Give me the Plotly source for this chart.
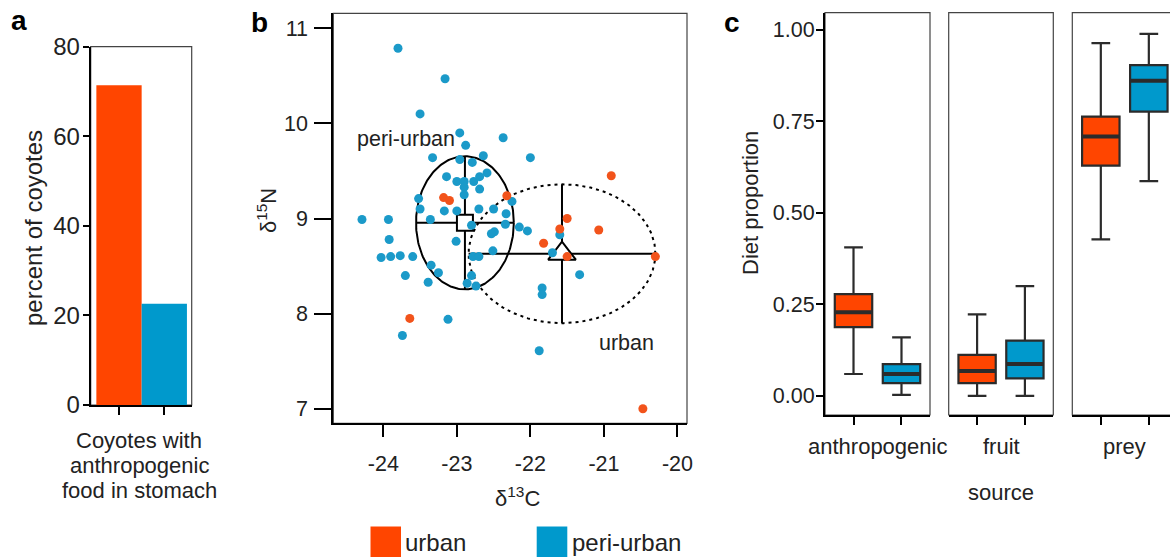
import numpy as np
import plotly.graph_objects as go

# ---------------- data ----------------
# panel a
bar_groups = ["urban", "peri-urban"]
bar_percent = [71.4, 22.6]

# panel b : stable isotopes
peri_x = [-23.80, -23.50, -23.16, -22.96, -22.88, -22.37, -23.33, -22.96, -22.64, -22.79,
          -22.00, -23.14, -23.00, -22.90, -22.77, -22.69, -22.59, -22.90, -22.90, -22.69,
          -23.52, -22.25, -23.50, -23.17, -23.00, -22.70, -22.50, -22.33, -24.29, -23.93,
          -23.36, -22.80, -22.34, -22.15, -22.04, -21.60, -22.49, -22.53, -23.01, -23.92,
          -22.51, -22.78, -22.70, -21.70, -24.03, -23.90, -23.77, -23.60, -23.35, -23.25,
          -23.70, -23.39, -22.80, -22.86, -22.74, -21.33, -21.84, -21.84, -23.12, -23.74,
          -21.88]
peri_y = [10.79, 10.10, 10.47, 9.90, 9.77, 9.85, 9.64, 9.62, 9.66, 9.59,
          9.64, 9.44, 9.39, 9.39, 9.39, 9.44, 9.48, 9.33, 9.25, 9.31,
          9.21, 9.18, 9.10, 9.08, 9.08, 9.10, 9.10, 9.05, 8.99, 8.99,
          8.99, 8.93, 8.94, 8.91, 8.87, 8.83, 8.86, 8.84, 8.76, 8.78,
          8.66, 8.60, 8.60, 8.64, 8.59, 8.60, 8.61, 8.60, 8.51, 8.43,
          8.40, 8.33, 8.40, 8.32, 8.29, 8.41, 8.27, 8.20, 7.94, 7.77,
          7.61]
urban_x = [-23.18, -23.10, -22.32, -20.90, -21.50, -21.60, -21.07, -21.82, -21.50, -20.30, -23.64, -20.47]
urban_y = [9.22, 9.19, 9.24, 9.45, 9.00, 8.89, 8.88, 8.74, 8.60, 8.60, 7.95, 7.00]

# group means and SDs (centre and half-axes of ellipses / crosshairs)
peri_mean = [-22.89, 8.955]
peri_sd = [0.665, 0.70]
urban_mean = [-21.57, 8.63]
urban_sd = [1.27, 0.73]

b_xticks = [-24, -23, -22, -21, -20]
b_xticklabels = ["-24", "-23", "-22", "-21", "-20"]
b_yticks = [7, 8, 9, 10, 11]

# panel c : diet proportions (box stats)
sources = ["anthropogenic", "fruit", "prey"]
urban_q = {  # lower whisker, q1, median, q3, upper whisker
    "anthropogenic": [0.060, 0.188, 0.229, 0.278, 0.406],
    "fruit": [0.000, 0.035, 0.068, 0.112, 0.223],
    "prey": [0.428, 0.629, 0.709, 0.763, 0.964],
}
peri_q = {
    "anthropogenic": [0.003, 0.035, 0.060, 0.087, 0.160],
    "fruit": [0.000, 0.048, 0.087, 0.151, 0.300],
    "prey": [0.587, 0.777, 0.861, 0.904, 0.989],
}
c_yticks = [0.0, 0.25, 0.5, 0.75, 1.0]
c_yticklabels = ["0.00", "0.25", "0.50", "0.75", "1.00"]

# ---------------- style ----------------
ORANGE = "#FF4500"
BLUE = "#0099CC"
PT_ORANGE = "#F2531B"
PT_BLUE = "#1B9AC9"
FONT = "Liberation Sans, Arial, sans-serif"
W, H = 1170, 558


def px(v):
    return v / W


def py(v):
    return 1 - v / H


fig = go.Figure()

# ---------- panel a ----------
fig.add_trace(go.Bar(x=[0, 1], y=bar_percent, width=1.0,
                     marker=dict(color=[ORANGE, BLUE], line=dict(width=0)),
                     xaxis="x", yaxis="y", showlegend=False))

# ---------- panel b ----------
theta = np.linspace(0, 2 * np.pi, 240)
for mean, sd, dash in [(peri_mean, peri_sd, "solid"), (urban_mean, urban_sd, "3px,4px")]:
    fig.add_trace(go.Scatter(x=mean[0] + sd[0] * np.cos(theta), y=mean[1] + sd[1] * np.sin(theta),
                             mode="lines", line=dict(color="black", width=2, dash=dash),
                             xaxis="x2", yaxis="y2", showlegend=False, hoverinfo="skip"))
    fig.add_trace(go.Scatter(x=[mean[0] - sd[0], mean[0] + sd[0], None, mean[0], mean[0]],
                             y=[mean[1], mean[1], None, mean[1] - sd[1], mean[1] + sd[1]],
                             mode="lines", line=dict(color="black", width=2),
                             xaxis="x2", yaxis="y2", showlegend=False, hoverinfo="skip"))
fig.add_trace(go.Scatter(x=[peri_mean[0]], y=[peri_mean[1]], mode="markers",
                         marker=dict(symbol="square", size=16, color="white",
                                     line=dict(color="black", width=2)),
                         xaxis="x2", yaxis="y2", showlegend=False))
fig.add_trace(go.Scatter(x=[urban_mean[0]], y=[urban_mean[1]], mode="markers",
                         marker=dict(symbol="triangle-up", size=24, color="white",
                                     line=dict(color="black", width=2)),
                         xaxis="x2", yaxis="y2", showlegend=False))
fig.add_trace(go.Scatter(x=peri_x, y=peri_y, mode="markers",
                         marker=dict(color=PT_BLUE, size=9, line=dict(width=0)),
                         xaxis="x2", yaxis="y2", showlegend=False))
fig.add_trace(go.Scatter(x=urban_x, y=urban_y, mode="markers",
                         marker=dict(color=PT_ORANGE, size=9, line=dict(width=0)),
                         xaxis="x2", yaxis="y2", showlegend=False))

# ---------- panel c ----------
BOXW = 0.78
for i, src in enumerate(sources):
    xa = "x%d" % (i + 3)
    ya = "y%d" % (i + 3)
    for pos, q, col in [(1, urban_q[src], ORANGE), (2, peri_q[src], BLUE)]:
        fig.add_trace(go.Box(x=[pos], lowerfence=[q[0]], q1=[q[1]], median=[q[2]], q3=[q[3]],
                             upperfence=[q[4]], width=BOXW, fillcolor=col,
                             line=dict(color="#2b2b2b", width=2.2), boxpoints=False,
                             xaxis=xa, yaxis=ya, showlegend=False))
        fig.add_trace(go.Scatter(x=[pos - BOXW / 2, pos + BOXW / 2], y=[q[2], q[2]], mode="lines",
                                 line=dict(color="#2b2b2b", width=4),
                                 xaxis=xa, yaxis=ya, showlegend=False, hoverinfo="skip"))

# ---------- layout ----------
tickfont = dict(family=FONT, size=21.5, color="#222")
axline = dict(showline=True, linecolor="black", linewidth=2, showgrid=False, zeroline=False,
              ticks="outside", tickcolor="black", tickwidth=1.6, automargin=False)

# domains
a_dom_x = [px(90.7), px(191.7)]
a_dom_y = [py(405), py(46.7)]
b_dom_x = [px(333.3), px(687)]
b_dom_y = [py(423.3), py(13.3)]
c_doms_x = [[px(825), px(930)], [px(948.7), px(1053.3)], [px(1072.3), 1.0]]
c_dom_y = [py(415), py(12.7)]

layout = dict(
    width=W, height=H, margin=dict(l=0, r=0, t=0, b=0, pad=0, autoexpand=False),
    paper_bgcolor="white", plot_bgcolor="white", showlegend=False,
    font=dict(family=FONT, color="#222"),
    boxmode="overlay",
    xaxis=dict(domain=a_dom_x, range=[-0.625, 1.605], tickvals=[0, 1], showticklabels=False,
               ticklen=8, anchor="y", **axline),
    yaxis=dict(domain=a_dom_y, range=[0, 80], tickvals=[0, 20, 40, 60, 80], ticklen=6,
               tickfont=dict(family=FONT, size=24, color="#222"), ticklabelstandoff=-2,
               anchor="x", **axline),
    xaxis2=dict(domain=b_dom_x, range=[-24.68, -19.87], tickvals=b_xticks, ticktext=b_xticklabels,
                ticklen=12, tickfont=tickfont, ticklabelstandoff=8, anchor="y2", **axline),
    yaxis2=dict(domain=b_dom_y, range=[6.847, 11.158], tickvals=b_yticks, ticklen=17,
                tickfont=tickfont, ticklabelstandoff=2, anchor="x2", **axline),
)
c_xranges = [[0.406, 2.594], [0.406, 2.594], [0.406, 2.441]]
for i in range(3):
    n = i + 3
    layout["xaxis%d" % n] = dict(domain=c_doms_x[i], range=c_xranges[i], tickvals=[1, 2],
                                 showticklabels=False, ticklen=8, anchor="y%d" % n, **axline)
    yax = dict(domain=c_dom_y, range=[-0.052, 1.047], anchor="x%d" % n, showgrid=False,
               zeroline=False, automargin=False)
    if i == 0:
        yax.update(axline)
        yax.update(tickvals=c_yticks, ticktext=c_yticklabels, ticklen=7, tickfont=tickfont,
                   ticklabelstandoff=-3)
    else:
        yax.update(showline=False, showticklabels=False, ticks="")
    layout["yaxis%d" % n] = yax

fig.update_layout(**layout)

# panel borders (thin)
shapes = []
border = dict(type="rect", xref="paper", yref="paper", layer="below",
              line=dict(color="#444", width=1.2), fillcolor="rgba(0,0,0,0)")
shapes.append(dict(border, x0=a_dom_x[0], x1=a_dom_x[1], y0=a_dom_y[0], y1=a_dom_y[1]))
shapes.append(dict(border, x0=b_dom_x[0], x1=b_dom_x[1], y0=b_dom_y[0], y1=b_dom_y[1]))
for i, d in enumerate(c_doms_x):
    x1 = d[1] if i < 2 else px(1177.3)
    shapes.append(dict(border, x0=d[0], x1=x1, y0=c_dom_y[0], y1=c_dom_y[1]))

# legend squares
shapes.append(dict(type="rect", xref="paper", yref="paper", x0=px(370.5), x1=px(401),
                   y0=py(557), y1=py(526.5), fillcolor=ORANGE, line=dict(width=0)))
shapes.append(dict(type="rect", xref="paper", yref="paper", x0=px(536.7), x1=px(567.3),
                   y0=py(557), y1=py(526.5), fillcolor=BLUE, line=dict(width=0)))
fig.update_layout(shapes=shapes)

ann = []


def add_text(text, x, y, size, bold=False, xanchor="center", yanchor="middle", angle=0, color="#222"):
    t = "<b>%s</b>" % text if bold else text
    ann.append(dict(text=t, x=px(x), y=py(y), xref="paper", yref="paper", showarrow=False,
                    xanchor=xanchor, yanchor=yanchor, textangle=angle,
                    font=dict(family=FONT, size=size, color=color)))


add_text("a", 19, 20, 28, bold=True, color="black")
add_text("b", 259, 22, 28, bold=True, color="black")
add_text("c", 732, 22, 28, bold=True, color="black")

add_text("percent of coyotes", 33, 228, 24, angle=-90)
add_text("Coyotes with", 139, 440, 22)
add_text("anthropogenic", 139, 465, 22)
add_text("food in stomach", 139, 490, 22)

add_text("δ<sup>15</sup>N", 267, 211, 22, angle=-90)
add_text("δ<sup>13</sup>C", 517, 497, 22)

add_text("Diet proportion", 750, 203, 22, angle=-90)
for i, src in enumerate(sources):
    cx = (c_doms_x[i][0] * W + (c_doms_x[i][1] * W if i < 2 else 1177.3)) / 2
    add_text(src, cx, 446, 22)
add_text("source", 1001, 492, 22)

add_text("urban", 403, 542, 24, xanchor="left")
add_text("peri-urban", 570, 542, 24, xanchor="left")

# in-plot labels for ellipses (data coordinates)
ann.append(dict(text="peri-urban", x=-23.69, y=9.836, xref="x2", yref="y2", showarrow=False,
                font=dict(family=FONT, size=21.5, color="#222")))
ann.append(dict(text="urban", x=-20.695, y=7.688, xref="x2", yref="y2", showarrow=False,
                font=dict(family=FONT, size=21.5, color="#222")))
fig.update_layout(annotations=ann)

fig.write_html("out.html", config={"responsive": False, "displayModeBar": False},
               post_script="document.body.style.margin='0';document.body.style.overflow='hidden';")
